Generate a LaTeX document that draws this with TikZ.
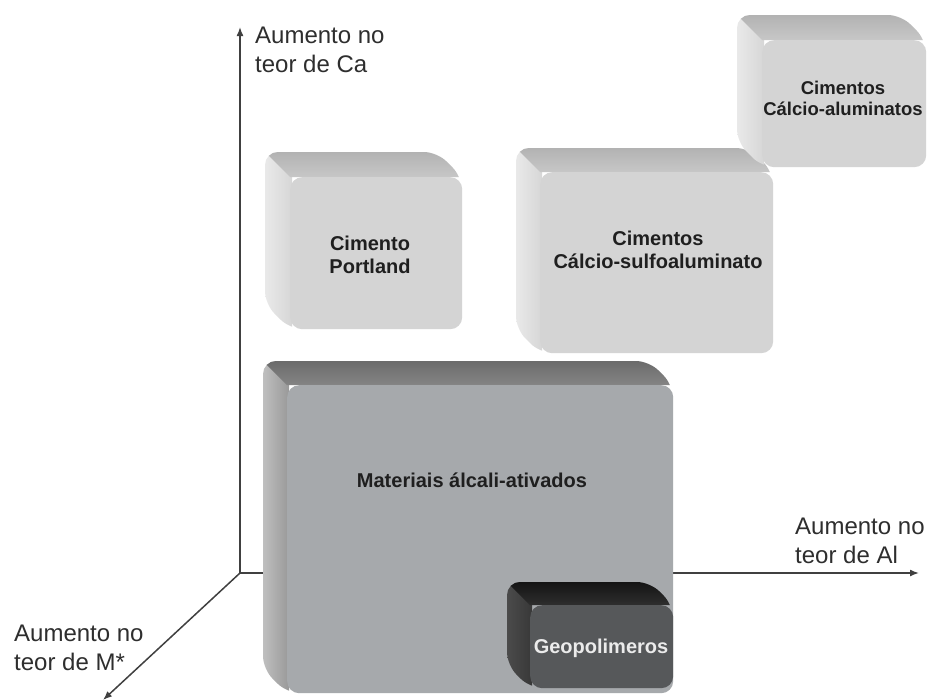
\documentclass[tikz,border=0pt]{standalone}
\usepackage{fontspec}
\setmainfont{Liberation Sans}
\usetikzlibrary{arrows.meta}
\tikzset{
  axisline/.style={draw=black!75, line width=1.5pt, -{Latex[length=9pt,width=7pt]}},
  axlabel/.style={inner sep=0pt, align=left, text=black!82, font=\fontsize{24}{29}\selectfont},
  boxtext/.style={inner sep=0pt, align=center, text=black!88, font=\fontsize{20}{23}\selectfont\bfseries},
  facefront/.style={inner sep=0pt, rounded corners=12pt, anchor=north west},
}
% #1 x1, #2 y1, #3 x2, #4 y2, #5 depth, #6 name
\newcommand\rcube[6]{%
  \begin{scope}
    \path[clip, rounded corners=13pt]
      (#1-#5,#2-#5) -- (#3-#5,#2-#5) -- (#3,#2) -- (#3,#4) -- (#1,#4) -- (#1-#5,#4-#5) -- cycle;
    \shade[left color=csideA, right color=csideB] (#1-#5-2,#2-#5-2) rectangle (#1+2,#4+2);
    \shade[top color=ctopA, bottom color=ctopB]
      (#1-#5,#2-#5) -- (#3-#5+2,#2-#5) -- (#3+2,#2) -- (#1,#2) -- cycle;
  \end{scope}
  \node[facefront, fill=cfront, minimum width={(#3-#1)*1pt}, minimum height={(#4-#2)*1pt}] (#6) at (#1,#2) {};
}
\begin{document}
\begin{tikzpicture}[x=1pt,y=-1pt]
\useasboundingbox[fill=white] (0,0) rectangle (928,699);

% axes
\coordinate (O) at (240,573);
\coordinate (ytip) at (240,27);
\coordinate (xtip) at (919,573);
\coordinate (ztip) at (103,700);
\draw[axisline] (O) -- (ytip);
\draw[axisline] (O) -- (xtip);
\draw[axisline] (O) -- (ztip);

% anchor=base is the baseline of the last line
\node[axlabel, anchor=base west] (labCa) at (255,72) {Aumento no\\teor de Ca};
\node[axlabel, anchor=base west] (labAl) at (795,563) {Aumento no\\teor de Al};
\node[axlabel, anchor=base west] (labM) at (14,670) {Aumento no\\teor de M*};

% light cubes
\colorlet{cfront}{black!17}
\colorlet{ctopA}{black!30}
\colorlet{ctopB}{black!22}
\colorlet{csideA}{black!8}
\colorlet{csideB}{black!16}
\rcube{290}{177}{462}{329}{25}{portland}
\rcube{540}{172}{773}{353}{24}{csa}
\rcube{762}{40}{926}{167}{25}{ca}

\node[boxtext, anchor=base] (portlandT) at (370,273) {Cimento\\Portland};
\node[boxtext, anchor=base] (csaT) at (658,268) {Cimentos\\Cálcio-sulfoaluminato};
\node[boxtext, anchor=base, font=\fontsize{18.5}{21}\selectfont\bfseries] (caT) at (843,115) {Cimentos\\Cálcio-aluminatos};

% alkali-activated
\definecolor{cfront}{RGB}{166,169,172}
\colorlet{ctopA}{black!58}
\colorlet{ctopB}{black!48}
\colorlet{csideA}{black!24}
\colorlet{csideB}{black!40}
\rcube{287}{385}{673}{693}{24}{aam}
\node[boxtext, anchor=base] (aamT) at (472,487) {Materiais álcali-ativados};

% geopolymers
\definecolor{cfront}{RGB}{86,88,90}
\colorlet{ctopA}{black!92}
\colorlet{ctopB}{black!82}
\colorlet{csideA}{black!70}
\colorlet{csideB}{black!78}
\rcube{530}{605}{673}{688}{23}{geo}
\node[boxtext, anchor=base, text=black!8] (geoT) at (601,653) {Geopolimeros};
\end{tikzpicture}
\end{document}
